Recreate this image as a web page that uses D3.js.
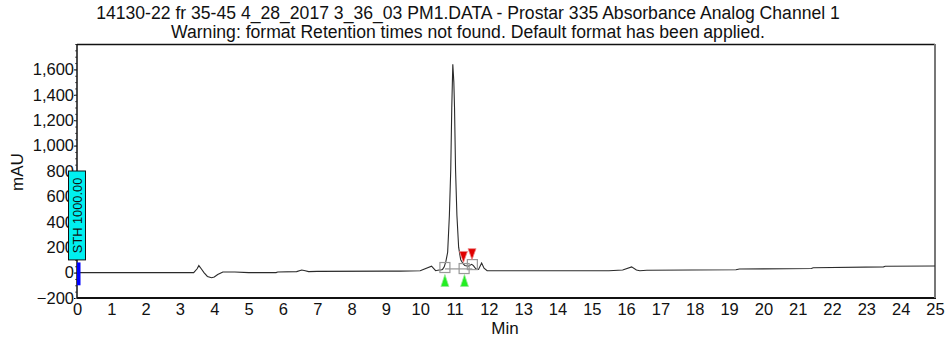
<!DOCTYPE html>
<html>
<head>
<meta charset="utf-8">
<script src="https://cdn.jsdelivr.net/npm/d3@7"></script>
<style>
  html, body { margin: 0; padding: 0; background: #fff; }
  text { font-family: "Liberation Sans", Arial, sans-serif; fill: #111; }
</style>
</head>
<body>
<svg id="chart" width="947" height="345"></svg>
<script>
// ---- data ----
const titleLines = [
  "14130-22 fr 35-45 4_28_2017 3_36_03 PM1.DATA - Prostar 335 Absorbance Analog Channel 1",
  "Warning: format Retention times not found. Default format has been applied."
];
const xTicks = d3.range(0, 26);
const yTicks = [-200, 0, 200, 400, 600, 800, 1000, 1200, 1400, 1600];
const times = [0, 3.40, 3.50, 3.55, 3.62, 3.70, 3.80, 3.92, 4.00, 4.10, 4.25, 4.60, 5.00, 5.80, 5.85, 6.40, 6.55, 6.65, 6.75, 7.00,
  9.00, 9.41, 10.00, 10.33, 10.45, 10.55, 10.60, 10.65, 10.70, 10.75, 10.80, 10.85, 10.89, 10.92, 10.95, 10.98, 11.00, 11.03,
  11.07, 11.12, 11.18, 11.25, 11.30, 11.40, 11.50, 11.55, 11.62, 11.70, 11.79, 11.86, 11.95, 12.20, 15.50, 15.90, 16.16, 16.30,
  16.40, 16.60, 19.20, 19.30, 21.40, 21.45, 23.50, 23.55, 25.00];
const mAU = [0, 0, 30, 55, 30, 0, -30, -40, -35, -15, 5, 5, 0, 0, 5, 8, 20, 15, 8, 10,
  12, 12, 15, 50, 15, 20, 20, 25, 45, 90, 160, 450, 810, 1300, 1640, 1500, 1300, 810,
  450, 200, 100, 70, 55, 50, 65, 55, 30, 25, 75, 35, 15, 15, 15, 20, 45, 20,
  15, 18, 22, 28, 32, 38, 45, 50, 52];
const peakStarts = [10.72, 11.29];           // green markers
const peakApexTimes = [11.26, 11.51];        // red markers
const peakApexValues = [80, 102];
const boxTimes = [10.72, 11.28, 11.52];      // integration boxes
const boxValues = [40, 32, 63];
const sthTime = 0;
const sthLabel = "STH 1000.00";

// ---- layout ----
const svg = d3.select("#chart");
const L = 77, R = 935, T = 44, B = 298;
const x = d3.scaleLinear().domain([0, 25]).range([L, R]);
const y = d3.scaleLinear().domain([-200, 1800]).range([B, T]);

// titles
svg.selectAll("text.title").data(titleLines).join("text")
  .attr("class", "title")
  .attr("x", 468).attr("y", (d, i) => 19 + i * 18.5)
  .attr("text-anchor", "middle").style("font-size", "17.6px")
  .text(d => d);

// y axis
const yAxis = d3.axisLeft(y).tickValues(yTicks).tickSize(3).tickPadding(0)
  .tickFormat(d3.format(","));
const gy = svg.append("g").attr("transform", `translate(${L},0)`).call(yAxis);
gy.select(".domain").remove();
gy.selectAll("text").style("font-size", "16.5px").attr("fill", "#111");
// minor ticks
const gym = svg.append("g").attr("transform", `translate(${L},0)`)
  .call(d3.axisLeft(y).tickValues(d3.range(-200, 1801, 50)).tickSize(2).tickFormat(""));
gym.select(".domain").remove();
gym.selectAll("line").attr("stroke", "#666");

// x axis
const xAxis = d3.axisBottom(x).tickValues(xTicks).tickSize(0).tickPadding(5).tickFormat(d3.format("d"));
const gx = svg.append("g").attr("transform", `translate(0,${B})`).call(xAxis);
gx.select(".domain").remove();
gx.selectAll("text").style("font-size", "16.5px").attr("fill", "#111");

// axis titles
svg.append("text").attr("x", 505).attr("y", 334).attr("text-anchor", "middle")
  .style("font-size", "17px").text("Min");
svg.append("text").attr("transform", "translate(23,172) rotate(-90)").attr("text-anchor", "middle")
  .style("font-size", "17px").text("mAU");

// frame
svg.append("line").attr("x1", L).attr("x2", R).attr("y1", T + 0.5).attr("y2", T + 0.5).attr("stroke", "#111").attr("stroke-width", 1.3);
svg.append("line").attr("x1", L).attr("x2", R + 1).attr("y1", B).attr("y2", B).attr("stroke", "#111").attr("stroke-width", 2);
svg.append("line").attr("x1", L).attr("x2", L).attr("y1", T).attr("y2", B).attr("stroke", "#111").attr("stroke-width", 1.5);
svg.append("line").attr("x1", R).attr("x2", R).attr("y1", T).attr("y2", B).attr("stroke", "#777").attr("stroke-width", 2);

// trace
const pts = times.map((t, i) => [t, mAU[i]]);
svg.append("path").datum(pts)
  .attr("fill", "none").attr("stroke", "#2a2a2a").attr("stroke-width", 1.1)
  .attr("d", d3.line().x(d => x(d[0])).y(d => y(d[1])));

// integration baseline and boxes
svg.append("line")
  .attr("x1", x(boxTimes[0])).attr("x2", x(boxTimes[boxTimes.length - 1]))
  .attr("y1", y(d3.mean(boxValues)) + 2).attr("y2", y(d3.mean(boxValues)) + 2)
  .attr("stroke", "#aaa").attr("stroke-width", 1.5);
svg.selectAll("rect.box").data(boxTimes).join("rect").attr("class", "box")
  .attr("x", d => x(d) - 5).attr("y", (d, i) => y(boxValues[i]) - 5)
  .attr("width", 10).attr("height", 10)
  .attr("fill", "none").attr("stroke", "#999").attr("stroke-width", 1.2);

// green start markers (apex up)
svg.selectAll("path.start").data(peakStarts).join("path").attr("class", "start")
  .attr("d", d => { const cx = x(d), yt = y(-15); return `M${cx},${yt}L${cx - 4},${yt + 12}L${cx + 4},${yt + 12}Z`; })
  .attr("fill", "#22ee22").attr("stroke", "#9be89b").attr("stroke-width", 0.8);

// red apex markers (apex down)
svg.selectAll("path.apex").data(peakApexTimes).join("path").attr("class", "apex")
  .attr("d", (d, i) => { const cx = x(d), yb = y(peakApexValues[i]); return `M${cx},${yb}L${cx - 4},${yb - 11}L${cx + 4},${yb - 11}Z`; })
  .attr("fill", "#e00000").attr("stroke", "#e88").attr("stroke-width", 0.8);

// STH marker
svg.append("rect").attr("x", x(sthTime)).attr("y", y(80)).attr("width", 3.5)
  .attr("height", y(-100) - y(80)).attr("fill", "#0000ff");
svg.append("rect").attr("x", x(sthTime) - 8.5).attr("y", y(800)).attr("width", 17)
  .attr("height", y(100) - y(800)).attr("fill", "#00f0f0").attr("stroke", "#111").attr("stroke-width", 1);
svg.append("text").attr("transform", `translate(${x(sthTime) + 5},${(y(800) + y(100)) / 2}) rotate(-90)`)
  .attr("text-anchor", "middle").style("font-size", "12.8px").text(sthLabel);
</script>
</body>
</html>
